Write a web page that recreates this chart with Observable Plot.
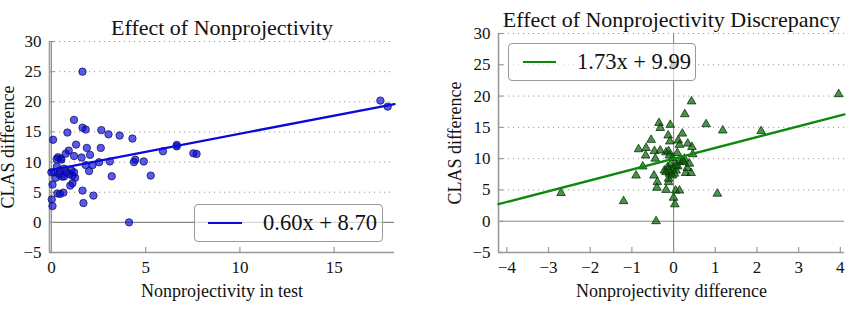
<!DOCTYPE html>
<html>
<head>
<meta charset="utf-8">
<script src="https://cdn.jsdelivr.net/npm/d3@7"></script>
<script src="https://cdn.jsdelivr.net/npm/@observablehq/plot@0.6"></script>
<style>
  html, body { margin: 0; padding: 0; background: #fff; }
  #wrap { position: relative; width: 861px; height: 324px; font-family: "Liberation Serif", "DejaVu Serif", serif; }
  .panel { position: absolute; top: 0; }
  .legend { position: absolute; box-sizing: border-box; border: 1.3px solid #999; border-radius: 4px;
            background: rgba(255,255,255,0.65); font-size: 22.5px; color: #111; }
  .legend .swatch { position: absolute; height: 0; border-top: 2.2px solid; }
  .legend .lab { position: absolute; line-height: 1; white-space: nowrap; }
</style>
</head>
<body>
<div id="wrap"></div>
<script>
// Nonprojectivity in the test set (%) vs. CLAS difference
const testNonproj = [1.65, 1.2, 0.85, 1.65, 1.82, 2.65, 3.03, 3.62, 4.3, 0.09, 1.31, 0.92, 1.88, 2.62,
  2.05, 0.76, 1.2, 1.6, 0.35, 0.5, 0.28, 0.53, 3.1, 2.53, 4.45, 4.38, 4.9, 2.18, 1.82, 2.0, 5.92,
  0.29, 3.2, 5.27, 1.12, 1.0, 0.06, 1.65, 2.23, 0.32, 0.64, 0.46, 0.02, 1.7, 0.06, 4.12, 6.65, 6.65,
  7.53, 7.7, 17.45, 17.84, 0.0, 0.14, 0.45, 0.55, 0.67, 0.82, 0.94, 1.06, 1.12, 1.26, 0.23, 0.41,
  0.67, 1.2];
const testClas = [25.0, 17.0, 14.9, 15.7, 15.4, 15.3, 14.6, 14.4, 13.9, 13.7, 12.9, 11.9, 12.35, 12.35,
  11.2, 11.4, 11.0, 10.75, 10.8, 10.6, 10.5, 10.4, 10.1, 9.97, 10.4, 10.0, 10.1, 9.5, 9.5, 8.5, 11.8,
  9.25, 7.65, 7.76, 6.5, 6.1, 6.27, 5.27, 4.44, 4.8, 4.94, 4.72, 3.8, 3.2, 2.7, 0.0, 12.85, 12.6,
  11.45, 11.35, 20.2, 19.2, 8.3, 8.3, 8.6, 7.6, 8.9, 8.3, 8.0, 8.6, 7.76, 7.4, 7.4, 8.0,
  7.6, 8.3];

// Nonprojectivity discrepancy (test minus train) vs. CLAS difference
const diffNonproj = [3.96, 0.43, 0.27, 0.78, 1.18, 2.1, -0.35, -0.32, -0.08, -0.13, 0.21, -0.09, 0.11,
  -0.54, 0.14, 0.34, 0.44, 0.46, -0.84, -0.66, -0.67, -0.46, -0.32, -0.18, -0.12, -0.44, 0.09, 0.26,
  0.24, -0.1, -0.02, -0.74, -0.9, -0.47, -0.39, -0.4, -0.18, -0.12, -0.12, 0.29, 0.42, 0.33, 0.38,
  0.05, 0.14, 0.0, 0.03, -2.7, -1.2, 1.05, -0.42, 0.0, -0.22, -0.14, -0.06, -0.02, 0.02, 0.06, -0.1,
  0.1, 0.14, 0.05, -0.18, -0.03, -0.11, 0.22];
const diffClas = [20.3, 19.15, 17.1, 15.5, 14.5, 14.4, 15.7, 14.9, 15.4, 13.7, 14.0, 12.75, 12.9,
  13.0, 12.2, 12.4, 11.85, 10.7, 11.5, 11.7, 10.5, 11.2, 11.3, 11.0, 11.2, 10.0, 10.9, 10.0,
  9.45, 10.5, 10.1, 8.75, 7.3, 7.3, 6.25, 5.35, 5.0, 6.25, 6.8, 7.7, 7.7, 8.5, 9.2,
  4.9, 4.9, 3.75, 2.7, 4.5, 3.2, 4.4, 0.0, 25.0, 8.1, 8.65, 9.2, 8.4, 7.6, 8.1, 7.6,
  8.75, 9.45, 8.9, 7.85, 7.3, 8.1, 9.7];

// Least-squares fits shown in the legends
const fitSlope = [0.60, 1.73];
const fitIntercept = [8.70, 9.99];

const yTicks = [-5, 0, 5, 10, 15, 20, 25, 30];
const xTicksTest = [0, 5, 10, 15];
const xTicksDiff = [-4, -3, -2, -1, 0, 1, 2, 3, 4];

const titles = ["Effect of Nonprojectivity", "Effect of Nonprojectivity Discrepancy"];
const xLabels = ["Nonprojectivity in test", "Nonprojectivity difference"];
const yLabel = "CLAS difference";

const serif = '"Liberation Serif", "DejaVu Serif", serif';
const fmtFit = (m, b) => `${m.toFixed(2)}x + ${b.toFixed(2)}`;

function panel({xs, ys, xDomain, xTicks, title, xLabel, fit, dotOpts, lineColor, m, titleDy}) {
  const innerH = 324 - m.top - m.bottom;
  const innerW = m.width - m.left - m.right;
  const pts = xs.map((x, i) => ({x, y: ys[i]}));
  const fitLine = xDomain.map(x => ({x, y: fit.m * x + fit.b}));
  const grid = yTicks.filter(t => t > 0);
  const svg = Plot.plot({
    width: m.width, height: 324,
    marginLeft: m.left, marginRight: m.right, marginTop: m.top, marginBottom: m.bottom,
    style: {fontFamily: serif, fontSize: "17px", color: "#111", background: "transparent", overflow: "visible"},
    x: {domain: xDomain},
    y: {domain: [yTicks[0], yTicks[yTicks.length - 1]]},
    marks: [
      // dotted horizontal grid
      Plot.ruleY(grid, {stroke: "#9a9a9a", strokeWidth: 1, strokeDasharray: "1.2,3.8"}),
      // zero reference lines
      Plot.ruleY([0], {stroke: "#8a8a8a", strokeWidth: 1.1}),
      Plot.ruleX([0], {stroke: "#8a8a8a", strokeWidth: 1.1}),
      // spines
      Plot.ruleY([yTicks[0]], {stroke: "#999", strokeWidth: 1.6}),
      Plot.ruleX([xDomain[0]], {stroke: "#999", strokeWidth: 1.6}),
      // inward ticks
      Plot.tickX(xTicks, {x: d => d, insetTop: innerH - 5, stroke: "#999", strokeWidth: 1.2}),
      Plot.tickY(yTicks, {y: d => d, insetRight: innerW - 5, stroke: "#999", strokeWidth: 1.2}),
      Plot.axisX(xTicks, {tickSize: 0, tickPadding: 8, label: null, fontSize: 17, fontVariant: "normal"}),
      Plot.axisY(yTicks, {tickSize: 0, tickPadding: 8, label: null, fontSize: 17, fontVariant: "normal"}),
      Plot.dot(pts, {x: "x", y: "y", ...dotOpts}),
      Plot.line(fitLine, {x: "x", y: "y", stroke: lineColor, strokeWidth: 2.3}),
      Plot.text([title], {frameAnchor: "top", lineAnchor: "middle", dy: titleDy, fontSize: 22}),
      Plot.text([xLabel], {frameAnchor: "bottom", lineAnchor: "middle", dy: 39, fontSize: 18}),
      Plot.text([yLabel], {frameAnchor: "left", textAnchor: "middle", lineAnchor: "middle", dx: m.ylab, rotate: -90, fontSize: 18})
    ]
  });
  // every label in the panel uses the serif face
  svg.querySelectorAll("text, g[aria-label]").forEach(el => el.style.fontFamily = serif);
  return svg;
}

const wrap = document.getElementById("wrap");

function place(node, left) {
  node.classList.add("panel");
  node.style.left = left + "px";
  wrap.appendChild(node);
}

function legend({left, top, width, height, color, text, swL, swW, labL}) {
  const box = document.createElement("div");
  box.className = "legend";
  Object.assign(box.style, {left: left + "px", top: top + "px", width: width + "px", height: height + "px"});
  const sw = document.createElement("div");
  sw.className = "swatch";
  Object.assign(sw.style, {left: swL + "px", width: swW + "px", top: (height / 2 - 2) + "px", borderTopColor: color});
  const lab = document.createElement("div");
  lab.className = "lab";
  lab.textContent = text;
  Object.assign(lab.style, {left: labL + "px", top: (height / 2 - 12) + "px"});
  box.append(sw, lab);
  wrap.appendChild(box);
}

place(panel({
  xs: testNonproj, ys: testClas, xDomain: [-0.1, 18.2], xTicks: xTicksTest,
  title: titles[0], xLabel: xLabels[0], fit: {m: fitSlope[0], b: fitIntercept[0]},
  dotOpts: {r: 3.7, fill: "#0000e6", fillOpacity: 0.65, stroke: "#14145a", strokeWidth: 0.8},
  lineColor: "#0a0ad8",
  m: {width: 430, left: 49, right: 36, top: 41, bottom: 72, ylab: -41}, titleDy: -14
}), 0);

place(panel({
  xs: diffNonproj, ys: diffClas, xDomain: [-4.2, 4.1], xTicks: xTicksDiff,
  title: titles[1], xLabel: xLabels[1], fit: {m: fitSlope[1], b: fitIntercept[1]},
  dotOpts: {symbol: "triangle", r: 3.2, fill: "#006400", fillOpacity: 0.7, stroke: "#0b300b", strokeWidth: 0.8},
  lineColor: "#0a8a0a",
  m: {width: 431, left: 68, right: 17, top: 33, bottom: 72, ylab: -43}, titleDy: -14
}), 430);

legend({left: 194, top: 204, width: 189, height: 38, color: "#0a0ad8",
        text: fmtFit(fitSlope[0], fitIntercept[0]), swL: 13, swW: 34, labL: 68});
legend({left: 508, top: 43, width: 188, height: 38, color: "#0a8a0a",
        text: fmtFit(fitSlope[1], fitIntercept[1]), swL: 14, swW: 33, labL: 68});
</script>
</body>
</html>
